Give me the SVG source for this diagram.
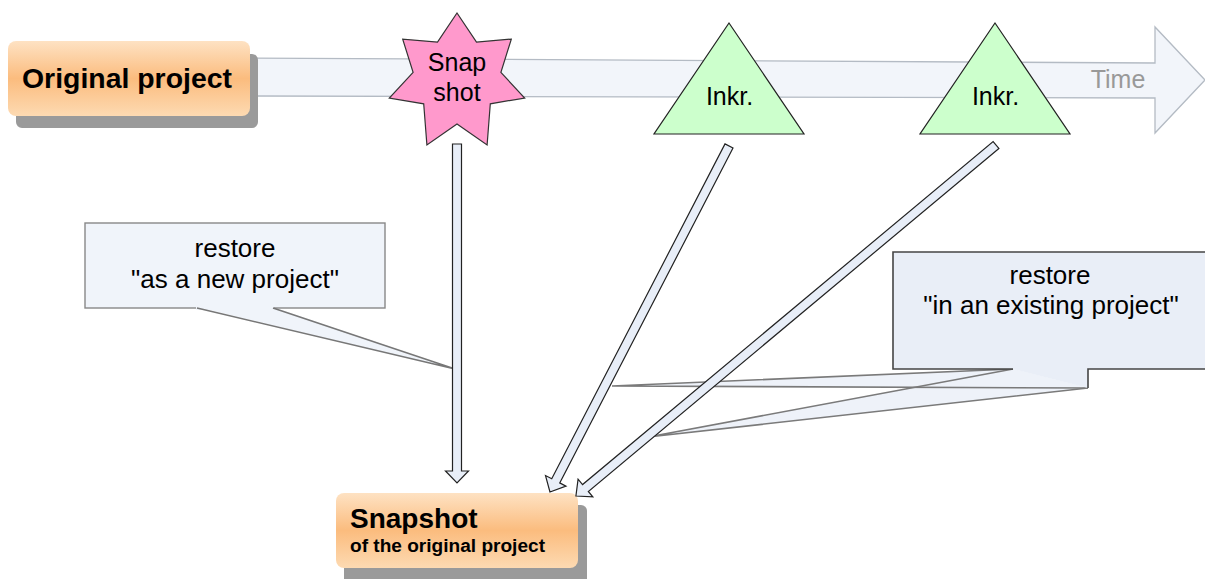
<svg xmlns="http://www.w3.org/2000/svg" width="1205" height="579" viewBox="0 0 1205 579">
<defs>
<linearGradient id="og" x1="0" y1="0" x2="0" y2="1">
<stop offset="0" stop-color="#fee2c3"/>
<stop offset="0.5" stop-color="#fbbc7e"/>
<stop offset="1" stop-color="#fddab2"/>
</linearGradient>
<style>
.shadow{fill:#9a9a9a}
.obox{fill:url(#og)}
.lbl{font-family:"Liberation Sans",Arial,sans-serif;fill:#000}
.bold{font-weight:bold}
.barrow{fill:#e8eef8;stroke:#222;stroke-width:1.2;stroke-linejoin:miter}
.cfill{fill:#eef2f9;stroke:none}
.cline{fill:none;stroke:#7a7a7a;stroke-width:1.6}
.cbody{fill:none;stroke:#454545;stroke-width:1.6}
</style>
</defs>
<rect width="1205" height="579" fill="#ffffff"/>

<g id="time">
<polygon points="245,58 1155,63 1155,27 1205,80 1155,133 1155,98 245,96" fill="#f2f5fa" stroke="#b4bbc4" stroke-width="1.3"/>
<text class="lbl" x="1118" y="88" font-size="25" text-anchor="middle" fill="#999" style="fill:#999">Time</text>
</g>

<g id="original">
<rect class="shadow" x="16" y="54" width="242" height="74" rx="6"/>
<rect class="obox" x="8" y="41" width="242" height="75" rx="8"/>
<text class="lbl bold" x="22" y="88" font-size="28" textLength="210" lengthAdjust="spacingAndGlyphs">Original project</text>
</g>

<g id="snapshot-star">
<polygon points="457,13 476.5,42 511.3,39.1 500.9,72.4 524.7,98 490.3,103.8 487.1,145 457,124 426.9,145 423.7,103.8 389.3,98 413.1,72.4 402.7,39.1 437.5,42" fill="#ff99cc" stroke="#333" stroke-width="1.2"/>
<text class="lbl" x="457" y="71" font-size="25" text-anchor="middle">Snap</text>
<text class="lbl" x="457" y="101" font-size="25" text-anchor="middle">shot</text>
</g>

<g id="inkr1">
<polygon points="729,23 804,134 654,134" fill="#ccffcc" stroke="#222" stroke-width="1.2"/>
<text class="lbl" x="729.5" y="105" font-size="25" text-anchor="middle">Inkr.</text>
</g>

<g id="inkr2">
<polygon points="995,23 1070,134 920,134" fill="#ccffcc" stroke="#222" stroke-width="1.2"/>
<text class="lbl" x="995.5" y="105" font-size="25" text-anchor="middle">Inkr.</text>
</g>

<g id="callout-new">
<polygon points="197,307 455,369 273,307" fill="#f0f4fa"/>
<rect x="85" y="223" width="300" height="85" fill="#f0f4fa" stroke="#888" stroke-width="1.4"/>
<rect x="196" y="306" width="78" height="4" fill="#f0f4fa"/>
<polyline points="197,308 455,369 273,308" fill="none" stroke="#777" stroke-width="1.6"/>
<text class="lbl" x="235" y="257" font-size="26" text-anchor="middle">restore</text>
<text class="lbl" x="235" y="288" font-size="26" text-anchor="middle">"as a new project"</text>
</g>

<g id="callout-existing">
<polygon class="cfill" points="1013,369 612,386 1088,388"/>
<polygon class="cfill" points="1013,369 648,437 1088,388"/>
<polyline class="cline" points="1013,369 612,386 1088,388"/>
<polyline class="cline" points="1013,369 648,437 1088,388"/>
<polygon points="893,252 1210,252 1210,369 1088,369 1088,388 1013,369 893,369" fill="#e9eef7"/>
<polyline class="cbody" points="1013,369 893,369 893,252 1210,252"/>
<polyline class="cbody" points="1210,369 1088,369 1088,388"/>
<text class="lbl" x="1050" y="284" font-size="26" text-anchor="middle">restore</text>
<text class="lbl" x="1051" y="314" font-size="26" text-anchor="middle">"in an existing project"</text>
</g>

<g id="snapshot-result">
<rect class="shadow" x="344" y="505" width="243" height="80" rx="6"/>
<rect class="obox" x="336" y="493" width="242" height="75" rx="8"/>
<text class="lbl bold" x="350" y="528" font-size="28">Snapshot</text>
<text class="lbl bold" x="350" y="552" font-size="18" textLength="195" lengthAdjust="spacingAndGlyphs">of the original project</text>
</g>

<g id="connectors">
<polygon class="barrow" transform="translate(457,144) rotate(90)" points="0,-4.5 327,-4.5 327,-11.5 339,0 327,11.5 327,4.5 0,4.5"/>
<polygon class="barrow" transform="translate(729,146) rotate(117.36)" points="0,-4.5 377,-4.5 377,-11.5 389.6,0 377,11.5 377,4.5 0,4.5"/>
<polygon class="barrow" transform="translate(996,145) rotate(140.12)" points="0,-4.5 535,-4.5 535,-11.5 547.4,0 535,11.5 535,4.5 0,4.5"/>
</g>
</svg>
